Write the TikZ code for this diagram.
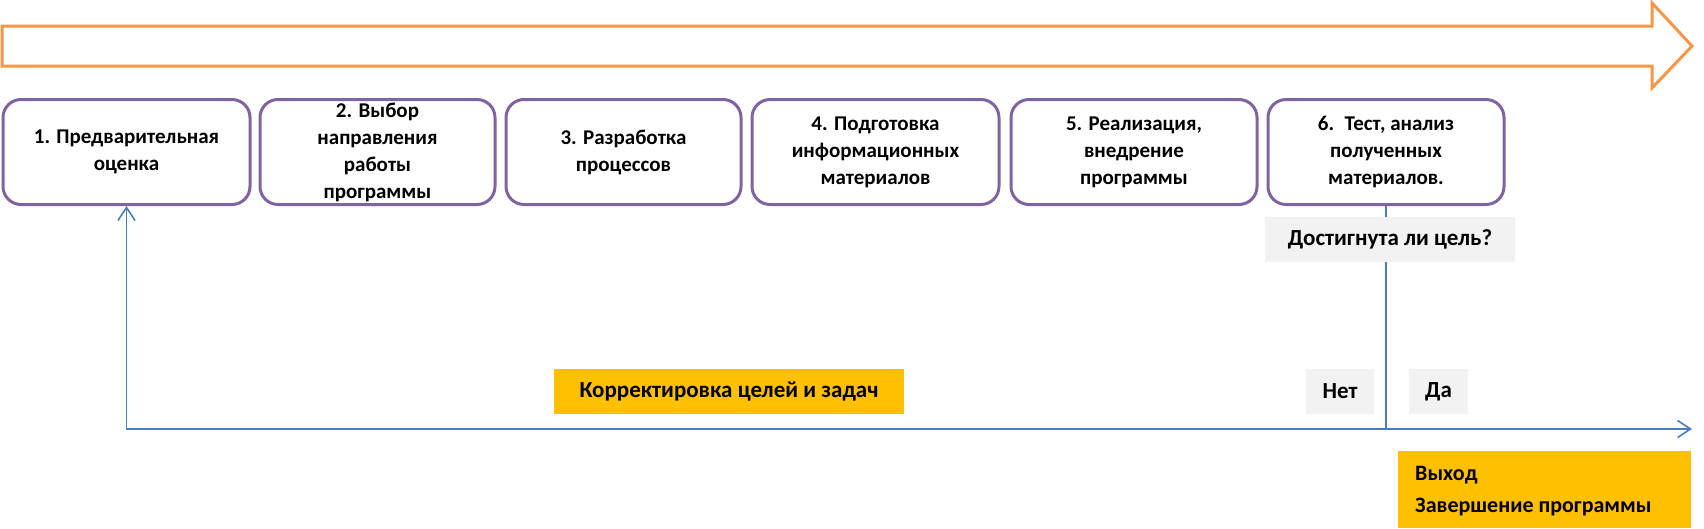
\documentclass[tikz,border=0pt]{standalone}
\usepackage{fontspec}
\setmainfont{Carlito}
\usetikzlibrary{arrows.meta}
\definecolor{orangeL}{HTML}{F79646}
\definecolor{purpleL}{HTML}{8064A2}
\definecolor{blueL}{HTML}{4A7EBB}
\definecolor{yellowF}{HTML}{FFC000}
\definecolor{greyF}{HTML}{F2F2F2}
\tikzset{
  stepbox/.style={draw=purpleL, line width=3pt, rounded corners=18pt, fill=white,
    minimum height=105pt, align=center, inner sep=0pt,
    font=\fontsize{21}{27}\selectfont\bfseries},
  flow/.style={draw=blueL, line width=1.6pt},
  flowarrow/.style={flow, -{Straight Barb[length=13pt,width=17pt,line width=1.6pt]}},
  greylabel/.style={fill=greyF, inner sep=0pt, minimum height=45pt,
    font=\fontsize{23}{27}\selectfont\bfseries},
  yellowlabel/.style={fill=yellowF, inner sep=0pt, minimum height=45pt,
    font=\fontsize{23}{27}\selectfont\bfseries}
}
\begin{document}
\begin{tikzpicture}[x=1pt,y=-1pt]
\useasboundingbox (0,0) rectangle (1704,528);
% big orange arrow
\draw[orangeL, line width=3pt, line join=miter]
  (2,26) -- (1652,26) -- (1652,3) -- (1692,46) -- (1652,88) -- (1652,66) -- (2,66) -- cycle;
% process boxes
\node[stepbox, minimum width=247pt] (b1) at (126.5,152) {1. Предварительная\\оценка};
\node[stepbox, minimum width=235pt] (b2) at (377.5,152) {2. Выбор\\направления\\работы\\программы};
\node[stepbox, minimum width=235pt] (b3) at (623.5,152) {3. Разработка\\процессов};
\node[stepbox, minimum width=247pt] (b4) at (875.5,152) {4. Подготовка\\информационных\\материалов};
\node[stepbox, minimum width=246pt] (b5) at (1134,152) {5. Реализация,\\внедрение\\программы};
\node[stepbox, minimum width=236pt] (b6) at (1386,152) {6.\enspace Тест, анализ\\полученных\\материалов.};
% connectors
\coordinate (j) at (b6.south |- 0,429);
\coordinate (exit) at (1692,429);
\draw[flow] (b6.south) -- (j);
\draw[flowarrow] (j) -- (b1.south |- j) -- (b1.south);
\draw[flowarrow] (j) -- (exit);
% labels
\node[greylabel, minimum width=250pt] (q) at (1390,239.5) {Достигнута ли цель?};
\node[greylabel, minimum width=68pt] (no) at (1340,391.5) {Нет};
\node[greylabel, minimum width=59pt] (yes) at (1438.5,391.5) {Да};
\node[yellowlabel, minimum width=350pt] (corr) at (729,391.5) {Корректировка целей и задач};
\node[fill=yellowF, minimum width=293pt, minimum height=77pt, inner sep=0pt] (ex) at (1544.5,489.5) {};
\node[anchor=west, align=left, inner sep=0pt, font=\fontsize{22}{32}\selectfont\bfseries]
  (extext) at (1415,491) {Выход\\Завершение программы};
\end{tikzpicture}
\end{document}
